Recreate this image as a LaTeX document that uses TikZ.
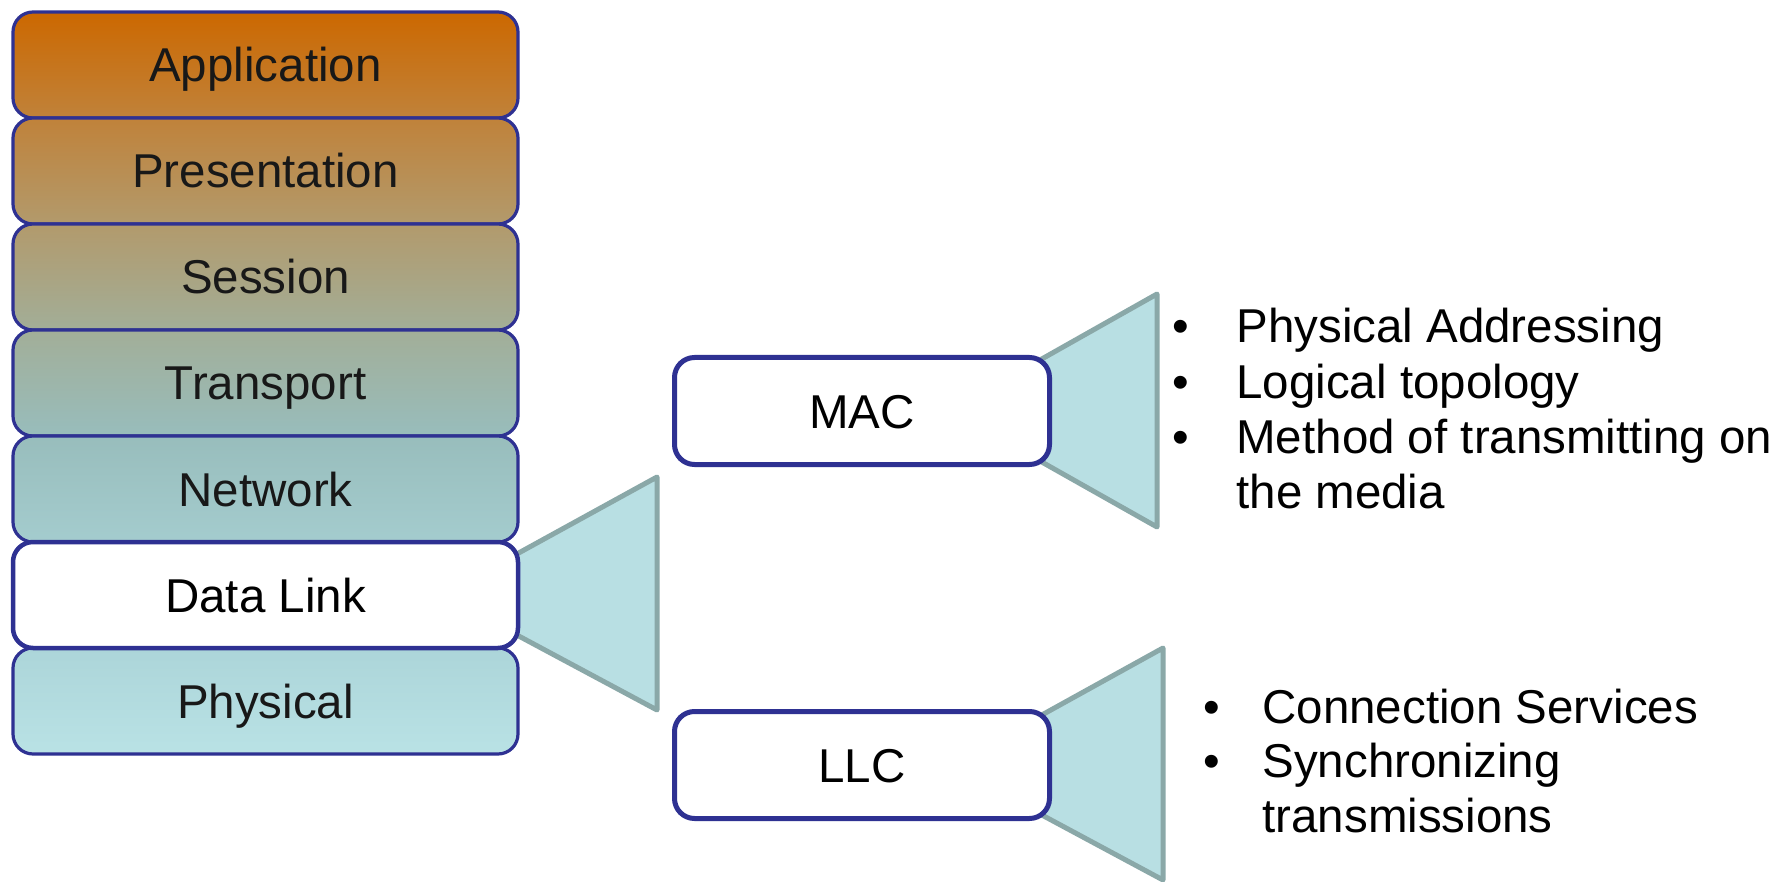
\documentclass[tikz,border=0pt]{standalone}
\usepackage{fontspec}
\setmainfont{Liberation Sans}
\newcommand\lblfont{\fontsize{23.75pt}{27.5pt}\selectfont}

\definecolor{navy}{RGB}{46,49,146}
\definecolor{stacktext}{RGB}{24,24,24}
\definecolor{calloutfill}{RGB}{184,223,227}
\definecolor{calloutedge}{RGB}{138,168,168}
% vertical colour ramp of the layer stack, orange at the top to pale cyan at the bottom
\definecolor{g0}{RGB}{204,104,0}
\definecolor{g1}{RGB}{192,130,58}
\definecolor{g2}{RGB}{178,154,108}
\definecolor{g3}{RGB}{162,174,152}
\definecolor{g4}{RGB}{152,189,188}
\definecolor{g5}{RGB}{164,204,206}
\definecolor{g6}{RGB}{172,213,217}
\definecolor{g7}{RGB}{185,226,229}

\begin{document}
\begin{tikzpicture}[x=0.5pt,y=-0.5pt,
  layer/.style={draw=navy, line width=1.6pt, rounded corners=10pt,
    minimum width=252.5pt, minimum height=53pt, inner sep=0pt,
    text height=17pt, text depth=0pt, font=\lblfont, text=stacktext},
  sublayer/.style={draw=navy, fill=white, line width=2.5pt, rounded corners=10pt,
    minimum width=187.5pt, minimum height=53.5pt, inner sep=0pt,
    text height=17pt, text depth=0pt, font=\lblfont},
  callout/.style={fill=calloutfill, draw=calloutedge, line width=2.5pt, line join=round},
  item/.style={anchor=base west, inner sep=0pt, font=\lblfont},
  bullet/.style={anchor=base, inner sep=0pt, font=\lblfont}
]
\fill[white] (0,0) rectangle (1789,882);
\useasboundingbox (0,0) rectangle (1789,882);

% OSI layer stack
\node[layer, top color=g0, bottom color=g1] (app)  at (265.5,65)  {Application};
\node[layer, top color=g1, bottom color=g2] (pres) at (265.5,171) {Presentation};
\node[layer, top color=g2, bottom color=g3] (sess) at (265.5,277) {Session};
\node[layer, top color=g3, bottom color=g4] (trans) at (265.5,383) {Transport};
\node[layer, top color=g4, bottom color=g5] (net)  at (265.5,489) {Network};
\node[layer, top color=g6, bottom color=g7] (phys) at (265.5,701) {Physical};

% callout opening from the data link layer
\draw[callout] (515,555) -- (657,477) -- (657,710) -- (515,634) -- cycle;
\node[layer, fill=white, line width=2.25pt, text=black] (dl) at (265.5,595) {Data Link};

% MAC sublayer
\draw[callout] (1040,360) -- (1157,294) -- (1157,527) -- (1040,461) -- cycle;
\node[sublayer] (mac) at (862,411) {MAC};

% LLC sublayer
\draw[callout] (1040,716) -- (1163,648) -- (1163,880) -- (1040,814) -- cycle;
\node[sublayer] (llc) at (862,765) {LLC};

% MAC functions
\node[bullet] (mb1) at (1181,343) {•};
\node[item]   (mt1) at (1236,343) {Physical Addressing};
\node[bullet] (mb2) at (1181,398) {•};
\node[item]   (mt2) at (1236,398) {Logical topology};
\node[bullet] (mb3) at (1181,453) {•};
\node[item]   (mt3) at (1236,453) {Method of transmitting on};
\node[item]   (mt4) at (1236,508) {the media};

% LLC functions
\node[bullet] (lb1) at (1212,723) {•};
\node[item]   (lt1) at (1262,723) {Connection Services};
\node[bullet] (lb2) at (1212,777) {•};
\node[item]   (lt2) at (1262,777) {Synchronizing};
\node[item]   (lt3) at (1262,832) {transmissions};
\end{tikzpicture}
\end{document}
